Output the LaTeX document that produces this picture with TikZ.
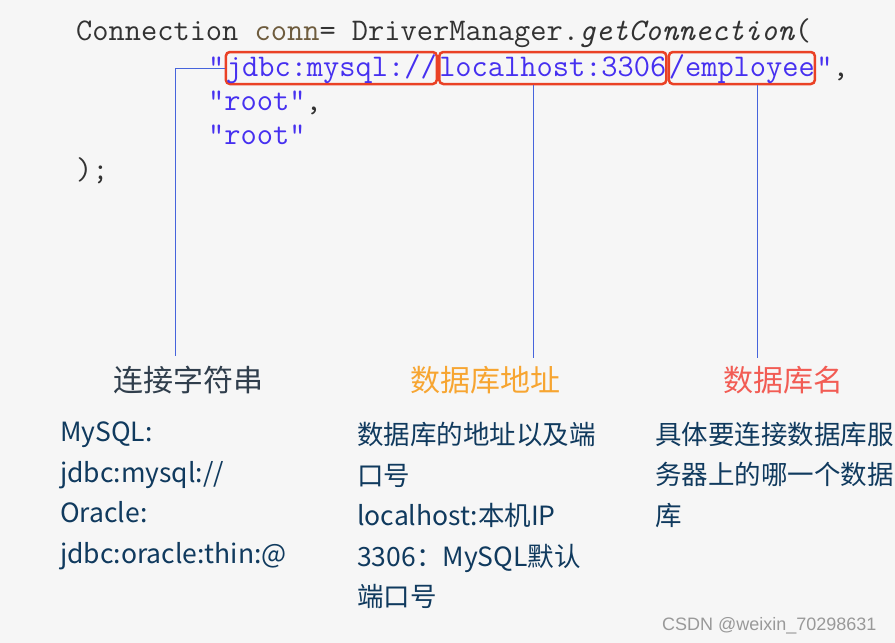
\documentclass[tikz,border=0pt]{standalone}
\usepackage{xcolor}
\usepackage{tikz}
\usepackage{fontspec}
\setmainfont{Noto Sans CJK SC}
\newfontfamily\markfont{Liberation Sans}
\usetikzlibrary{positioning, calc}
\definecolor{paperbg}{RGB}{246, 246, 246}
\definecolor{codegray}{RGB}{50, 50, 50}
\definecolor{codebrown}{RGB}{110, 92, 62}
\definecolor{codestring}{RGB}{70, 48, 240}
\definecolor{boxred}{RGB}{234, 65, 37}
\definecolor{linkblue}{RGB}{70, 100, 220}
\definecolor{labeldark}{RGB}{48, 62, 76}
\definecolor{labelorange}{RGB}{247, 165, 49}
\definecolor{labelred}{RGB}{242, 92, 84}
\definecolor{bodynavy}{RGB}{16, 58, 94}

\begin{document}
\begin{tikzpicture}[x=1pt, y=-1pt,
    code/.style={inner xsep=0pt, inner ysep=2pt, text height=22pt, text depth=6pt,
        font=\ttfamily\fontsize{31.5}{35}\selectfont, text=codegray},
    urlbox/.style={code, draw=boxred, line width=2.5pt, rounded corners=4pt, text=codestring},
    link/.style={draw=linkblue, line width=0.8pt},
    label/.style={font=\fontsize{30}{36}\selectfont},
    desc/.style={anchor=north west, align=left, text=bodynavy, inner sep=0pt,
        font=\fontsize{26.5}{40.5}\selectfont}]
    \clip (0,0) rectangle (895,643);
    \useasboundingbox (0,0) rectangle (895,643);
    \fill[paperbg] (0,0) rectangle (895,643);

    % Code
    \node[code, anchor=base west] (code1) at (76,40)
        {Connection \textcolor{codebrown}{conn}= DriverManager.\textit{getConnection}(};
    \node[code, anchor=base west, text=codestring] (q0) at (208,76) {"};
    \node[urlbox, right=0pt of q0] (url1) {jdbc:mysql://};
    \node[urlbox, right=0pt of url1] (url2) {localhost:3306};
    \node[urlbox, right=0pt of url2] (url3) {/employee};
    \node[code, right=0pt of url3] (q1) {\textcolor{codestring}{"},};
    \node[code, anchor=base west] (user) at (208,110) {\textcolor{codestring}{"root"},};
    \node[code, anchor=base west, text=codestring] (pass) at (208,144) {"root"};
    \node[code, anchor=base west] (close) at (76,179) {);};

    % Labels
    \node[label, text=labeldark] (lblproto) at (188,380) {连接字符串};
    \node[label, text=labelorange] (lblhost) at (485,380) {数据库地址};
    \node[label, text=labelred] (lbldb) at (783,380) {数据库名};

    % Connectors
    \coordinate (c1) at (175,356);
    \coordinate (c2) at (533,358);
    \coordinate (c3) at (757,358);
    \draw[link] (url1.west) -| (c1);
    \draw[link] (c2 |- url2.south) -- (c2);
    \draw[link] (c3 |- url3.south) -- (c3);

    % Descriptions
    \node[desc] (descproto) at (60,422)
        {MySQL:\\jdbc:mysql://\\Oracle:\\jdbc:oracle:thin:@};
    \node[desc] (deschost) at (357,422)
        {数据库的地址以及端\\口号\\localhost:本机IP\\3306：MySQL默认\\端口号};
    \node[desc] (descdb) at (655,422)
        {具体要连接数据库服\\务器上的哪一个数据\\库};

    % Watermark
    \node[anchor=base east, text=gray!80, font=\markfont\fontsize{18}{20}\selectfont] (mark)
        at (880,630) {CSDN @weixin\_70298631};
\end{tikzpicture}
\end{document}
